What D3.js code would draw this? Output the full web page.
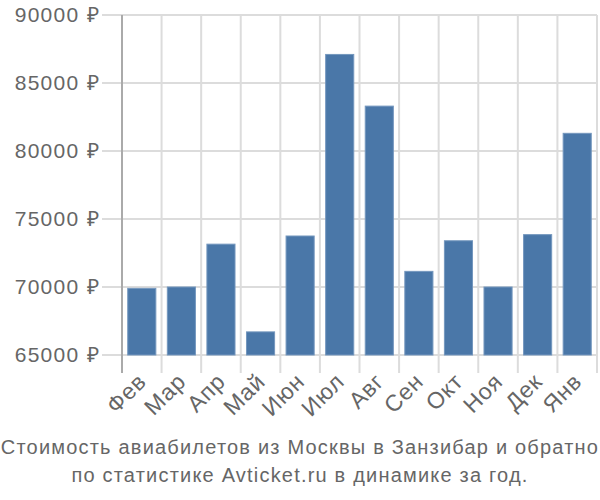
<!DOCTYPE html>
<html><head><meta charset="utf-8">
<script src="https://cdn.jsdelivr.net/npm/d3@7"></script>
<style>body{margin:0;background:#fff}svg{display:block}</style>
</head><body>
<svg id="c" width="600" height="500"></svg>
<script>
const months = ["Фев","Мар","Апр","Май","Июн","Июл","Авг","Сен","Окт","Ноя","Дек","Янв"];
const prices = [69900, 70000, 73150, 66700, 73750, 87100, 83300, 71150, 73400, 70000, 73850, 81300];
const yTicks = [65000, 70000, 75000, 80000, 85000, 90000];
const titleLines = ["Стоимость авиабилетов из Москвы в Занзибар и обратно","по статистике Avticket.ru в динамике за год."];

const svg = d3.select("#c");
const L = 122, R = 597, T = 15, B = 355;
const y = d3.scaleLinear().domain([65000, 90000]).range([B, T]);
const font = "Liberation Sans, Arial, sans-serif";
const xb = d3.scaleBand().domain(months).range([L, R]).paddingInner(0.29).paddingOuter(0.145);
const bounds = d3.range(months.length + 1).map(i => L + i * (R - L) / months.length);

// horizontal grid
svg.append("g").selectAll("line").data(yTicks).join("line")
  .attr("x1", L - 20).attr("x2", R).attr("y1", d => y(d)).attr("y2", d => y(d))
  .attr("stroke", "#dcdcdc").attr("stroke-width", 2);
// vertical grid at band boundaries
svg.append("g").selectAll("line").data(bounds.slice(1)).join("line")
  .attr("x1", d => d).attr("x2", d => d).attr("y1", T).attr("y2", B + 18)
  .attr("stroke", "#dcdcdc").attr("stroke-width", 2);
// left axis line
svg.append("line").attr("x1", L).attr("x2", L).attr("y1", T).attr("y2", B + 18)
  .attr("stroke", "#aaaaaa").attr("stroke-width", 2);

// bars
svg.append("g").selectAll("rect").data(months).join("rect")
  .attr("x", d => xb(d))
  .attr("width", xb.bandwidth())
  .attr("y", (d, i) => y(prices[i]))
  .attr("height", (d, i) => y(65000) - y(prices[i]))
  .attr("fill", "#4a77a8").attr("stroke", "#7497be").attr("stroke-width", 1);

// y labels
svg.append("g").selectAll("text").data(yTicks).join("text")
  .attr("x", 100).attr("y", d => y(d)).attr("dy", "0.35em")
  .attr("text-anchor", "end").attr("fill", "#666").attr("font-family", font).attr("font-size", 21)
  .attr("letter-spacing", 1.3)
  .text(d => d + " ₽");

// x labels
svg.append("g").selectAll("text").data(months).join("text")
  .attr("transform", d => `translate(${xb(d) + xb.bandwidth()/2 + 6},${B + 28}) rotate(-45)`)
  .attr("text-anchor", "end").attr("fill", "#666").attr("font-family", font).attr("font-size", 23)
  .attr("letter-spacing", 0.8)
  .text(d => d);

// title
svg.append("g").selectAll("text").data(titleLines).join("text")
  .attr("x", 300).attr("y", (d, i) => 454 + i * 28)
  .attr("text-anchor", "middle").attr("fill", "#666").attr("font-family", font).attr("font-size", 20)
  .attr("letter-spacing", 1.2)
  .text(d => d);
</script>
</body></html>
